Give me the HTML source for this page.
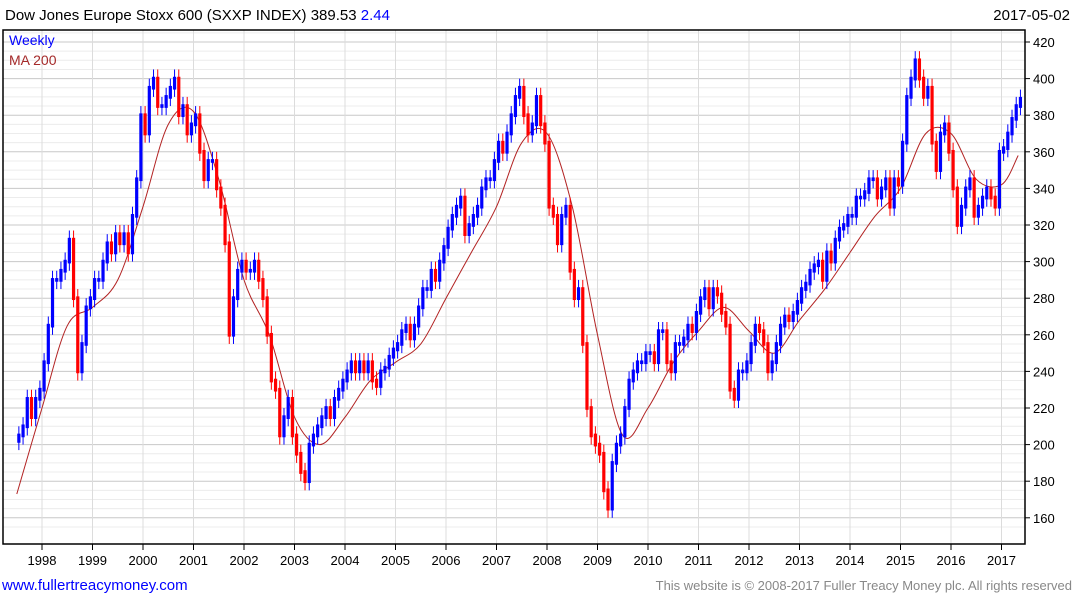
<!DOCTYPE html>
<html><head><meta charset="utf-8"><style>
body{margin:0;background:#fff;width:1075px;height:600px;overflow:hidden;font-family:"Liberation Sans",sans-serif}
</style></head><body>
<svg id="c" width="1075" height="600" xmlns="http://www.w3.org/2000/svg" font-family="Liberation Sans, sans-serif">
<text x="5" y="20" font-size="15" fill="#000">Dow Jones Europe Stoxx 600 (SXXP INDEX) 389.53 <tspan fill="#0000ff">2.44</tspan></text>
<text x="1070" y="20" font-size="15" text-anchor="end" fill="#000">2017-05-02</text>
<g id="grid"></g>
<g id="ma"></g>
<g id="bars"></g>
<rect x="3" y="30" width="1022" height="514" fill="none" stroke="#000" stroke-width="1.5"/>
<g id="yax"></g>
<g id="xax"></g>
<text x="9" y="45" font-size="14" fill="#0000ff">Weekly</text>
<text x="9" y="65" font-size="14" fill="#a52a2a">MA 200</text>
<text x="2" y="590" font-size="15" fill="#0000ff">www.fullertreacymoney.com</text>
<text x="1072" y="590" font-size="13" text-anchor="end" fill="#888">This website is © 2008-2017 Fuller Treacy Money plc. All rights reserved</text>
</svg>
<script>
const startYear = 1997.5;
const closes = [205,210,225,215,225,230,
245,265,290,290,295,300,312,280,240,255,275,280,
290,290,300,310,305,315,310,315,305,325,345,380,
370,395,400,385,385,390,395,400,380,385,370,375,
380,360,345,355,355,340,330,310,260,280,295,300,
295,295,300,290,280,260,235,230,205,215,225,205,
195,185,180,200,205,210,215,220,215,225,230,235,
240,245,240,245,240,245,235,232,240,242,248,252,
255,262,265,258,265,275,285,285,295,290,300,308,
318,325,330,335,315,320,325,330,340,345,345,355,
365,360,370,380,390,395,380,370,375,390,375,365,
330,325,310,325,330,295,280,285,255,220,205,200,
195,175,165,190,200,205,220,235,240,245,245,250,
250,245,262,262,245,240,255,255,258,265,262,272,
280,285,275,285,282,272,265,230,225,240,240,245,
255,265,262,255,240,245,255,265,270,268,272,278,
285,288,295,298,300,290,305,300,312,318,320,325,
325,335,335,338,345,345,335,340,345,330,345,342,
365,390,400,410,400,390,395,365,350,370,375,360,
340,320,330,340,345,325,330,335,340,335,330,360,
362,370,378,385,389];
const maTimes = [1997.5,1998,1998.5,1999,1999.5,2000,2000.5,2001,2001.5,2002,2002.5,2003,2003.5,2004,2004.5,2005,2005.5,2006,2006.5,2007,2007.5,2008,2008.5,2009,2009.5,2010,2010.5,2011,2011.5,2012,2012.5,2013,2013.5,2014,2014.5,2015,2015.5,2016,2016.5,2017,2017.33];
const maValues = [173,220,265,275,290,330,375,382,345,290,260,215,200,215,235,245,255,280,305,330,365,370,330,260,205,220,245,262,275,262,250,268,285,305,325,340,370,370,345,342,358];
const yTicks = [160,180,200,220,240,260,280,300,320,340,360,380,400,420];
const xYears = [1998,1999,2000,2001,2002,2003,2004,2005,2006,2007,2008,2009,2010,2011,2012,2013,2014,2015,2016,2017];

const NS="http://www.w3.org/2000/svg";
const X = t => 42 + (t-1998)*50.5;
const Y = v => 42 + (420-v)/20*36.6;
function mk(tag,attrs,parent){const e=document.createElementNS(NS,tag);for(const k in attrs)e.setAttribute(k,attrs[k]);document.getElementById(parent).appendChild(e);return e;}

for(let v=155; v<=425; v+=5){
  const g=mk('line',{x1:3,x2:1025,y1:Y(v),y2:Y(v),stroke:v%20===0?'#c8c8c8':'#ececec','stroke-width':1},'grid');
  
  
}
xYears.forEach(yr=>{
  const g=mk('line',{x1:X(yr),x2:X(yr),y1:30,y2:544,stroke:'#dcdcdc','stroke-width':1},'grid');
  
  
  const t=mk('line',{x1:X(yr),x2:X(yr),y1:544,y2:550,stroke:'#000'},'xax');
  
  
  const l=mk('text',{x:X(yr),y:565,'font-size':13,'text-anchor':'middle',fill:'#000'},'xax');
  l.textContent=yr;
  
  
});
yTicks.forEach(v=>{
  const t=mk('line',{x1:1025,x2:1030,y1:Y(v),y2:Y(v),stroke:'#000'},'yax');
  
  
  const l=mk('text',{x:1033,y:Y(v)+5,'font-size':13,fill:'#000'},'yax');
  l.textContent=v;
  
  
});
// MA line (Catmull-Rom smoothed)
const P=maTimes.map((t,i)=>[X(t),Y(maValues[i])]);
let d='M'+P[0][0].toFixed(1)+','+P[0][1].toFixed(1);
for(let i=0;i<P.length-1;i++){
  const p0=P[Math.max(0,i-1)],p1=P[i],p2=P[i+1],p3=P[Math.min(P.length-1,i+2)];
  const c1=[p1[0]+(p2[0]-p0[0])/6,p1[1]+(p2[1]-p0[1])/6];
  const c2=[p2[0]-(p3[0]-p1[0])/6,p2[1]-(p3[1]-p1[1])/6];
  d+=' C'+c1.map(n=>n.toFixed(1))+' '+c2.map(n=>n.toFixed(1))+' '+p2.map(n=>n.toFixed(1));
}
const ml=mk('path',{d:d,fill:'none',stroke:'#b22222','stroke-width':1},'ma');


// bars
closes.forEach((c,i)=>{
  const prev=i===0?c-3:closes[i-1];
  const hi=Math.max(prev,c), lo=Math.min(prev,c);
  const x=X(startYear+i/12+1/24);
  const col=c>=prev?'#0000ff':'#ff0000';
  const w=mk('line',{x1:x,x2:x,y1:Y(hi+5),y2:Y(lo-5),stroke:col,'stroke-width':1},'bars');
  
  
  const b=mk('rect',{x:x-1.6,y:Y(hi+1),width:3.2,height:Math.max(2,Y(lo-1)-Y(hi+1)),fill:col},'bars');
  
  
});
</script>
</body></html>
